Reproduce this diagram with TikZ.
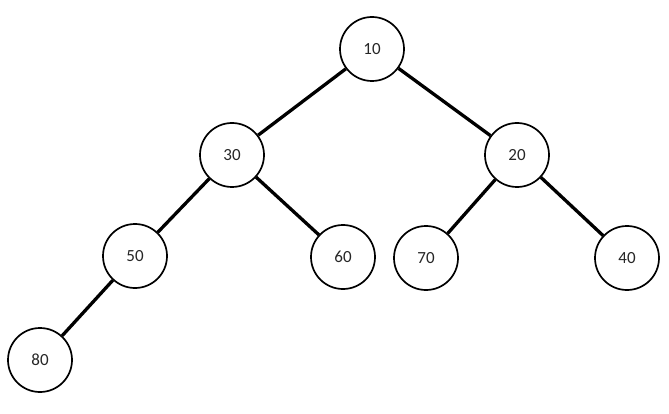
\documentclass[tikz,border=0pt]{standalone}
\usepackage{fontspec}
\setmainfont{Carlito}
\begin{document}
\begin{tikzpicture}[x=1pt,y=-1pt,
  tn/.style={circle,draw=black,line width=1.7pt,fill=white,minimum size=64pt,inner sep=0pt,font=\fontsize{17}{20}\selectfont,text=black!85},
  ed/.style={line width=3.3pt,black}]
\useasboundingbox (0,0) rectangle (669,414);
\node[tn] (n10) at (372,49) {10};
\node[tn] (n30) at (232,155) {30};
\node[tn] (n20) at (517,155) {20};
\node[tn] (n50) at (135,256) {50};
\node[tn] (n60) at (343,257) {60};
\node[tn] (n70) at (426,258) {70};
\node[tn] (n40) at (627,258) {40};
\node[tn] (n80) at (40,360) {80};
\draw[ed] (n10) -- (n30);
\draw[ed] (n10) -- (n20);
\draw[ed] (n30) -- (n50);
\draw[ed] (n30) -- (n60);
\draw[ed] (n20) -- (n70);
\draw[ed] (n20) -- (n40);
\draw[ed] (n50) -- (n80);
\end{tikzpicture}
\end{document}
